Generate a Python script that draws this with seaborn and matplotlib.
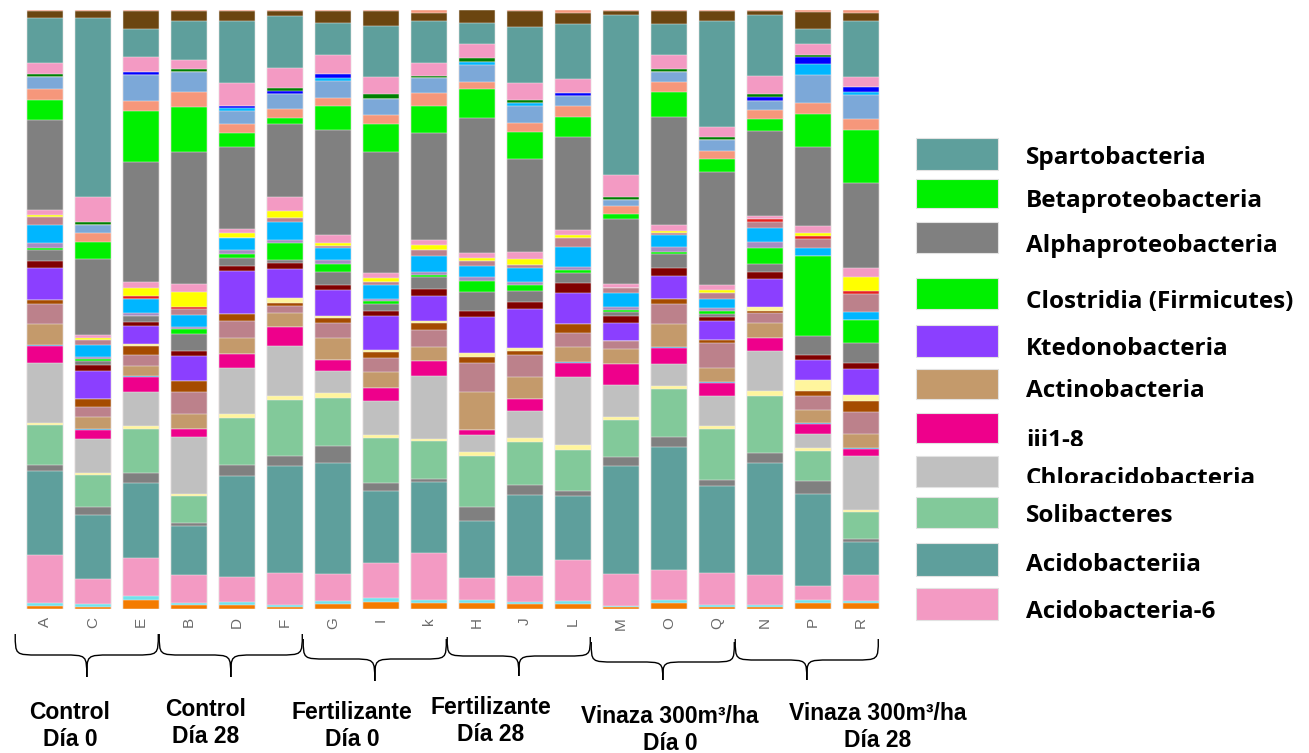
import numpy as np
import pandas as pd
import matplotlib
matplotlib.use("Agg")
import matplotlib.pyplot as plt
import seaborn as sns
from matplotlib.patches import Rectangle, PathPatch
from matplotlib.path import Path
from matplotlib.transforms import blended_transform_factory, Bbox, TransformedBbox

# ---------------- data ----------------
samples = ["A", "C", "E", "B", "D", "F", "G", "I", "k",
           "H", "J", "L", "M", "O", "Q", "N", "P", "R"]

# stack layers, bottom -> top
layers = ["orange", "cyan", "Acidobacteria-6", "Acidobacteriia", "gray_a",
          "Solibacteres", "lyellow_a", "Chloracidobacteria", "iii1-8", "lblue",
          "Actinobacteria", "rosy_a", "brown", "lyellow_b", "Ktedonobacteria",
          "maroon", "gray_b", "Clostridia (Firmicutes)", "lavender", "deepsky",
          "rosy_b", "red", "yellow", "pink_b", "Alphaproteobacteria",
          "Betaproteobacteria", "salmon", "steelblue", "deepsky_b", "blue",
          "dkgreen", "pink_c", "Spartobacteria", "dkbrown", "salmon_top"]

layer_colors = ["#F47B00", "#72E2EC", "#F39AC3", "#5E9F9C", "#808080",
                "#82C99A", "#FFF59D", "#C0C0C0", "#EE008B", "#2FA0E0",
                "#C49A6B", "#BC818B", "#A54B00", "#FFF59D", "#8B3FFF",
                "#800000", "#808080", "#00F000", "#A68BC2", "#00B6FF",
                "#BC818B", "#E8201E", "#FFFF00", "#F39AC3", "#808080",
                "#00F000", "#F6977B", "#7CA8D8", "#00B6FF", "#0000FF",
                "#007F00", "#F39AC3", "#5E9F9C", "#6B4510", "#F6977B"]

sample_A = [3, 3, 48, 83, 6, 40, 2, 59, 17, 1, 21, 20, 4, 0, 32, 7, 11, 2, 5, 17, 8, 0, 2, 5, 90, 20, 11, 11, 0, 0, 3, 11, 45, 7, 1]
sample_C = [2, 3, 25, 64, 7, 32, 2, 34, 9, 1, 12, 10, 8, 0, 28, 6, 4, 2, 2, 12, 5, 0, 2, 3, 75, 17, 9, 8, 0, 0, 3, 25, 178, 7, 1]
sample_E = [9, 4, 38, 75, 10, 44, 3, 34, 15, 1, 10, 11, 9, 2, 18, 4, 6, 0, 3, 13, 0, 3, 8, 6, 120, 51, 10, 26, 0, 3, 0, 15, 28, 18, 1]
sample_B = [4, 2, 28, 49, 3, 27, 2, 56, 8, 0, 15, 22, 11, 0, 25, 5, 17, 5, 2, 12, 6, 2, 15, 8, 131, 45, 15, 20, 0, 0, 3, 9, 39, 10, 1]
sample_D = [4, 3, 25, 100, 11, 47, 4, 46, 14, 0, 16, 17, 7, 0, 42, 5, 8, 4, 4, 12, 0, 0, 5, 4, 82, 14, 9, 13, 2, 2, 0, 23, 62, 10, 1]
sample_F = [2, 2, 32, 107, 9, 56, 4, 50, 19, 0, 14, 7, 3, 5, 29, 6, 3, 17, 3, 18, 4, 0, 7, 14, 72, 6, 9, 15, 0, 3, 3, 20, 52, 5, 1]
sample_G = [5, 3, 27, 111, 17, 48, 5, 22, 11, 0, 22, 15, 5, 2, 27, 5, 13, 8, 4, 12, 2, 0, 3, 8, 105, 24, 8, 17, 3, 4, 0, 19, 32, 12, 1]
sample_I = [7, 4, 35, 72, 8, 45, 3, 34, 13, 0, 16, 14, 6, 2, 34, 5, 8, 3, 2, 14, 3, 0, 4, 5, 121, 28, 9, 16, 0, 0, 5, 17, 51, 15, 1]
sample_k = [6, 3, 47, 71, 3, 37, 2, 63, 15, 0, 14, 17, 7, 2, 25, 7, 12, 2, 3, 16, 6, 0, 5, 5, 106, 27, 13, 15, 0, 0, 2, 13, 42, 8, 3]
sample_H = [6, 3, 22, 57, 14, 50, 4, 17, 5, 0, 38, 29, 6, 4, 36, 6, 19, 11, 4, 11, 5, 0, 3, 5, 134, 29, 7, 17, 3, 0, 4, 14, 21, 13, 0]
sample_J = [5, 2, 26, 81, 10, 43, 4, 27, 12, 0, 22, 22, 4, 3, 39, 7, 11, 6, 3, 14, 3, 0, 6, 7, 93, 27, 9, 17, 3, 0, 3, 17, 56, 16, 1]
sample_L = [5, 3, 41, 64, 5, 40, 5, 68, 14, 1, 15, 14, 9, 0, 31, 10, 10, 3, 3, 20, 9, 0, 3, 5, 92, 20, 11, 10, 0, 3, 0, 14, 55, 11, 3]
sample_M = [2, 1, 32, 108, 8, 37, 3, 32, 21, 0, 15, 8, 0, 0, 18, 7, 4, 2, 3, 14, 5, 0, 0, 4, 65, 5, 8, 6, 0, 0, 3, 22, 159, 4, 1]
sample_O = [6, 3, 30, 123, 10, 48, 3, 22, 16, 1, 23, 19, 5, 0, 23, 8, 14, 2, 5, 12, 2, 0, 2, 6, 108, 25, 10, 10, 0, 0, 3, 14, 31, 13, 1]
sample_Q = [2, 2, 32, 87, 6, 52, 3, 30, 13, 1, 14, 25, 3, 0, 19, 4, 3, 3, 3, 9, 6, 0, 3, 5, 113, 14, 8, 11, 0, 0, 3, 10, 106, 10, 1]
sample_N = [2, 2, 30, 112, 10, 57, 5, 40, 13, 0, 15, 10, 2, 5, 28, 7, 8, 16, 6, 14, 6, 3, 0, 3, 85, 12, 9, 9, 0, 4, 3, 18, 61, 4, 1]
sample_P = [6, 3, 14, 92, 13, 30, 3, 14, 10, 1, 13, 14, 5, 11, 20, 5, 19, 80, 0, 8, 9, 3, 3, 7, 79, 33, 11, 28, 11, 7, 2, 11, 15, 17, 2]
sample_R = [6, 2, 26, 33, 3, 26, 2, 54, 7, 1, 14, 22, 11, 6, 25, 6, 20, 23, 0, 8, 18, 3, 14, 9, 84, 53, 11, 24, 3, 5, 0, 9, 56, 8, 3]

groups = ["Control\nDía 0", "Control\nDía 28", "Fertilizante\nDía 0",
          "Fertilizante\nDía 28", "Vinaza 300m³/ha\nDía 0", "Vinaza 300m³/ha\nDía 28"]
group_members = [["A", "C", "E"], ["B", "D", "F"], ["G", "I", "k"],
                 ["H", "J", "L"], ["M", "O", "Q"], ["N", "P", "R"]]

legend_labels = ["Spartobacteria", "Betaproteobacteria", "Alphaproteobacteria",
                 "Clostridia (Firmicutes)", "Ktedonobacteria", "Actinobacteria",
                 "iii1-8", "Chloracidobacteria", "Solibacteres", "Acidobacteriia",
                 "Acidobacteria-6"]

# ---------------- table ----------------
values = {"A": sample_A, "C": sample_C, "E": sample_E, "B": sample_B, "D": sample_D,
          "F": sample_F, "G": sample_G, "I": sample_I, "k": sample_k, "H": sample_H,
          "J": sample_J, "L": sample_L, "M": sample_M, "O": sample_O, "Q": sample_Q,
          "N": sample_N, "P": sample_P, "R": sample_R}
rows = []
for s in samples:
    v = np.array(values[s], dtype=float)
    pct = v / v.sum() * 100
    cum = np.cumsum(pct)
    for name, p, c in zip(layers, pct, cum):
        rows.append({"sample": s, "layer": name, "pct": p, "cum": c})
df = pd.DataFrame(rows)

# ---------------- plot ----------------
sns.set_style("white")
plt.rcParams["font.family"] = ["Liberation Sans", "DejaVu Sans"]
plt.rcParams["text.color"] = "black"

W, H = 1309, 753
fig = plt.figure(figsize=(W / 100, H / 100), dpi=100)
ax_left, ax_right = 21, 885
ax_top, ax_bot = 10, 609
ax = fig.add_axes([ax_left / W, 1 - ax_bot / H, (ax_right - ax_left) / W, (ax_bot - ax_top) / H])

for name, col in reversed(list(zip(layers, layer_colors))):
    sub = df[df["layer"] == name]
    sns.barplot(data=sub, x="sample", y="cum", order=samples, color=col,
                saturation=1, width=0.73, edgecolor="#f2eeee", linewidth=0.35, ax=ax)

ax.set_xlim(-0.5, len(samples) - 0.5)
ax.set_ylim(0, 100)
ax.set_xlabel("")
ax.set_ylabel("")
ax.set_yticks([])
for sp in ax.spines.values():
    sp.set_visible(False)
ax.tick_params(axis="x", length=0, pad=6, labelsize=11, labelcolor="#6a6a6a", labelrotation=90)

# ---------------- braces & group labels ----------------
bt = blended_transform_factory(ax.transData, fig.transFigure)
brace_y = [(634, 655, 677), (634, 655, 677), (639, 659, 681),
           (637, 656, 676), (642, 662, 680), (639, 660, 680)]
label_pos = [(70, 726), (206, 723), (352, 726), (491, 721), (670, 730), (878, 727)]

def fy(p):
    return 1 - p / H

for members, (yt, ym, ytip), grp, (lx, ly) in zip(group_members, brace_y, groups, label_pos):
    i0 = samples.index(members[0])
    i1 = samples.index(members[-1])
    x0, x1 = i0 - 0.62, i1 + 0.36
    xc = (x0 + x1) / 2
    r = 0.5
    verts = [(x0, fy(yt)), (x0, fy(ym)), (x0, fy(ym)), (x0 + r, fy(ym)),
             (xc - r, fy(ym)),
             (xc, fy(ym)), (xc, fy(ym)), (xc, fy(ytip)),
             (xc, fy(ytip)),
             (xc, fy(ym)), (xc, fy(ym)), (xc + r, fy(ym)),
             (x1 - r, fy(ym)),
             (x1, fy(ym)), (x1, fy(ym)), (x1, fy(yt))]
    codes = [Path.MOVETO, Path.CURVE4, Path.CURVE4, Path.CURVE4,
             Path.LINETO,
             Path.CURVE4, Path.CURVE4, Path.CURVE4,
             Path.MOVETO,
             Path.CURVE4, Path.CURVE4, Path.CURVE4,
             Path.LINETO,
             Path.CURVE4, Path.CURVE4, Path.CURVE4]
    patch = PathPatch(Path(verts, codes), facecolor="none", edgecolor="black",
                      linewidth=1.0, transform=bt, clip_on=False)
    ax.add_patch(patch)
    fig.text(lx / W, fy(ly), grp, ha="center", va="center", fontsize=16.5,
             fontweight="bold", linespacing=1.2, color="black")

# ---------------- legend ----------------
legend_colors = [layer_colors[layers.index(n)] for n in legend_labels]
box_top = [138, 179, 222, 278, 325, 369, 413, 456, 497, 543, 588]
box_h = [32, 29, 31, 31, 32, 30, 30, 31, 31, 33, 32]
baselines = [164, 207, 252, 308, 355, 397, 447, 485, 522, 571, 618]
clip_y = [None, None, None, None, None, None, 446, 483, None, None, None]
for lab, col, bt_, bh, bl, cy in zip(legend_labels, legend_colors, box_top, box_h, baselines, clip_y):
    fig.add_artist(Rectangle((916 / W, fy(bt_ + bh)), 82 / W, bh / H, transform=fig.transFigure,
                             facecolor=col, edgecolor="#e2e2e2", linewidth=0.8))
    t = fig.text(1026 / W, fy(bl), lab, ha="left", va="baseline", fontsize=17.5,
                 fontweight="bold", color="black", family=["Open Sans", "DejaVu Sans"])
    if cy is not None:
        t.set_clip_on(True)
        t.set_clip_box(TransformedBbox(Bbox([[0, fy(cy)], [1, 1]]), fig.transFigure))

fig.savefig("out.png", dpi=100)
